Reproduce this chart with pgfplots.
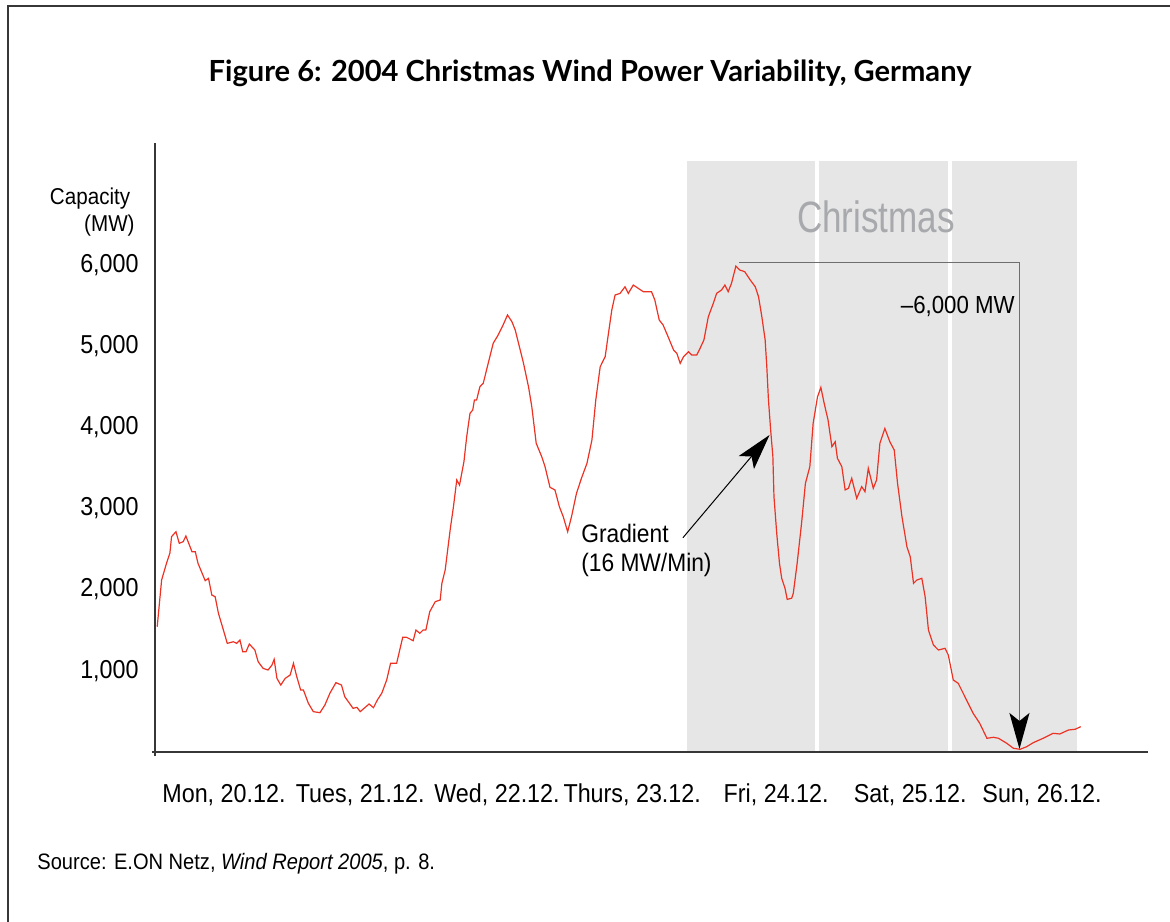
\documentclass[border=0pt]{standalone}
\usepackage{fontspec}
\setmainfont{Liberation Sans}[FakeStretch=0.9]
\newfontfamily\titlefont{Lato}
\newfontfamily\xmasfont{Liberation Sans}[FakeStretch=0.8]
\usepackage{pgfplots}
\pgfplotsset{compat=1.18}
\usetikzlibrary{arrows.meta}

\definecolor{windred}{RGB}{237,50,36}
\definecolor{xmasshade}{RGB}{230,230,230}
\definecolor{xmasgray}{RGB}{167,169,172}
\definecolor{axisgray}{RGB}{55,55,55}
\definecolor{bracketgray}{RGB}{110,110,110}

\begin{document}
\begin{tikzpicture}
% picture = 1170x922 px at 0.5bp/px, axis origin at px (155,752)
\path[use as bounding box] (-77.5bp,-85bp) rectangle (507.5bp,376bp);
\draw[axisgray, line width=0.8bp] (-73.5bp,-85bp) -- (-73.5bp,373bp) -- (507.5bp,373bp);

\node[anchor=base, font=\titlefont\bfseries\fontsize{14.6}{16}\selectfont] at (217.5bp,335bp)
  {Figure 6: 2004 Christmas Wind Power Variability, Germany};
\node[anchor=base west, font=\fontsize{11.2}{13}\selectfont, inner sep=0pt] at (-59bp,-58.5bp)
  {Source: E.ON Netz, \textit{Wind Report 2005}, p. 8.};

\node[anchor=base east, inner sep=0pt, font=\fontsize{11.5}{13}\selectfont] at (-12.2bp,273.5bp) {Capacity};
\node[anchor=base east, inner sep=0pt, font=\fontsize{11.5}{13}\selectfont] at (-10bp,260bp) {(MW)};

\begin{axis}[
    at={(0,0)}, anchor=south west,
    scale only axis,
    width=496.5bp, height=304.5bp,
    xmin=0, xmax=180,
    ymin=0, ymax=7500,
    axis on top,
    axis lines=left,
    axis line style={-, axisgray, line width=1bp},
    x axis line style={shorten <=-1.5bp},
    y axis line style={shorten <=-2bp},
    major tick length=0pt,
    ytick={1000,2000,3000,4000,5000,6000},
    /pgf/number format/assume math mode=true,
    /pgf/number format/1000 sep={,},
    yticklabel style={anchor=east, inner xsep=0pt, xshift=-8bp, font=\fontsize{13}{15}\selectfont},
    xtick={12.5,37.2,62.0,86.5,112.6,136.9,160.8},
    xticklabels={{Mon, 20.12.},{Tues, 21.12.},{Wed, 22.12.},{Thurs, 23.12.},{Fri, 24.12.},{Sat, 25.12.},{Sun, 26.12.}},
    xticklabel style={anchor=base, yshift=-25bp, font=\fontsize{13}{15}\selectfont},
    clip=false,
]
% Christmas shading
\fill[xmasshade] (axis cs:96.4,0) rectangle (axis cs:167.1,7280);
\draw[white, line width=1.6bp] (axis cs:120,0) -- (axis cs:120,7280);
\draw[white, line width=1.6bp] (axis cs:144.1,0) -- (axis cs:144.1,7280);
\node[anchor=base, text=xmasgray, font=\xmasfont\fontsize{22}{24}\selectfont] at (axis cs:130.7,6392) {Christmas};

\addplot[windred, line width=0.6bp] coordinates {
(0.4,1543)(1.2,2118)(2.1,2327)(2.7,2450)(3.0,2652)(3.8,2713)(4.4,2570)(5.1,2590)
(5.6,2660)(6.7,2467)(7.3,2467)(7.8,2323)(9.1,2110)(9.7,2139)(10.3,1933)(10.9,1913)
(11.5,1708)(12.4,1502)(13.1,1338)(14.2,1358)(14.8,1338)(15.4,1379)(15.9,1235)(16.5,1235)
(17.1,1330)(18.1,1256)(18.7,1112)(19.6,1030)(20.5,1010)(21.2,1071)(21.6,1141)(22.1,907)
(22.8,825)(23.6,907)(24.5,948)(25.1,1092)(25.7,927)(26.4,764)(26.9,764)(27.8,600)
(28.7,497)(29.9,484)(30.8,579)(31.7,723)(32.8,854)(33.8,825)(34.4,681)(35.9,538)
(36.6,550)(37.2,497)(38.8,591)(39.6,546)(40.3,640)(41.1,723)(42.0,887)(42.7,1092)
(43.8,1092)(44.9,1412)(45.6,1412)(46.8,1371)(47.3,1502)(48.0,1462)(48.6,1502)(49.1,1502)
(49.8,1728)(50.8,1851)(51.7,1872)(52.0,2077)(52.6,2241)(53.5,2734)(54.1,3021)(54.7,3350)
(55.2,3288)(56.0,3575)(56.5,3883)(57.1,4171)(57.6,4212)(57.9,4335)(58.3,4335)(58.9,4499)
(59.5,4541)(60.7,4868)(61.3,5033)(62.2,5135)(63.1,5259)(63.9,5382)(64.7,5299)(65.3,5197)
(65.9,5033)(66.8,4787)(67.7,4499)(68.3,4253)(69.1,3802)(70.1,3637)(70.7,3514)(71.6,3260)
(72.5,3227)(73.3,3021)(74.0,2898)(74.8,2713)(75.5,2898)(76.4,3186)(77.3,3371)(78.3,3555)
(79.2,3842)(79.9,4335)(80.7,4745)(81.6,4868)(82.2,5156)(82.8,5443)(83.4,5628)(84.3,5648)
(85.2,5730)(85.8,5648)(86.7,5751)(87.6,5710)(88.5,5669)(90.0,5669)(90.6,5567)(91.4,5320)
(92.1,5259)(93.0,5115)(94.0,4951)(94.6,4910)(95.2,4787)(95.8,4868)(96.7,4930)(97.3,4889)
(98.2,4889)(98.8,4971)(99.5,5074)(100.3,5361)(101.2,5525)(101.8,5648)(102.7,5690)(103.3,5751)
(103.9,5669)(104.5,5772)(105.3,5985)(106.0,5936)(106.9,5915)(107.9,5813)(108.8,5730)(109.4,5607)
(110.0,5361)(110.6,5074)(110.9,4745)(111.2,4335)(111.6,3965)(112.0,3637)(112.2,3144)(112.7,2693)
(113.2,2323)(113.6,2139)(114.2,2016)(114.6,1880)(115.4,1893)(115.7,1954)(116.4,2323)(117.2,2816)
(117.9,3309)(118.7,3514)(119.3,4048)(120.1,4376)(120.7,4490)(121.3,4294)(122.0,4089)(122.7,3760)
(123.3,3821)(123.7,3617)(124.5,3514)(125.1,3227)(125.7,3248)(126.3,3371)(127.2,3124)(128.1,3268)
(128.7,3206)(129.3,3494)(130.2,3248)(130.8,3350)(131.4,3802)(132.3,3985)(133.2,3821)(134.0,3719)
(134.6,3309)(135.4,2898)(136.3,2528)(136.9,2405)(137.5,2077)(138.1,2118)(139.0,2139)(139.6,1913)
(140.2,1502)(141.1,1318)(142.0,1256)(143.2,1277)(143.8,1195)(144.7,887)(145.6,846)(146.5,723)
(147.4,600)(148.3,477)(149.5,353)(150.8,169)(152.0,181)(152.9,169)(154.4,107)(155.6,46)
(156.8,33)(158.0,65)(159.2,115)(161.0,169)(162.8,230)(164.0,222)(165.6,271)(166.8,280)(167.8,312)
};

% -6,000 MW bracket
\draw[bracketgray, line width=0.8bp, -{Stealth[length=18bp, width=10bp, inset=4bp, black]}]
  (axis cs:105.9,6026) -- (axis cs:156.7,6026) -- (axis cs:156.7,37);
\node[anchor=base east, inner sep=0pt, font=\fontsize{12.4}{14}\selectfont] at (axis cs:155.9,5406) {–6,000 MW};

% gradient arrow
\draw[black, line width=0.5bp, -{Stealth[length=18bp, width=10bp, inset=4bp]}]
  (axis cs:95.7,2639) -- (axis cs:111.4,3904);
\node[anchor=base west, inner sep=0pt, align=left, font=\fontsize{12.7}{14.5}\selectfont] at (axis cs:77.2,2220)
  {Gradient\\(16 MW/Min)};
\end{axis}
\end{tikzpicture}
\end{document}
